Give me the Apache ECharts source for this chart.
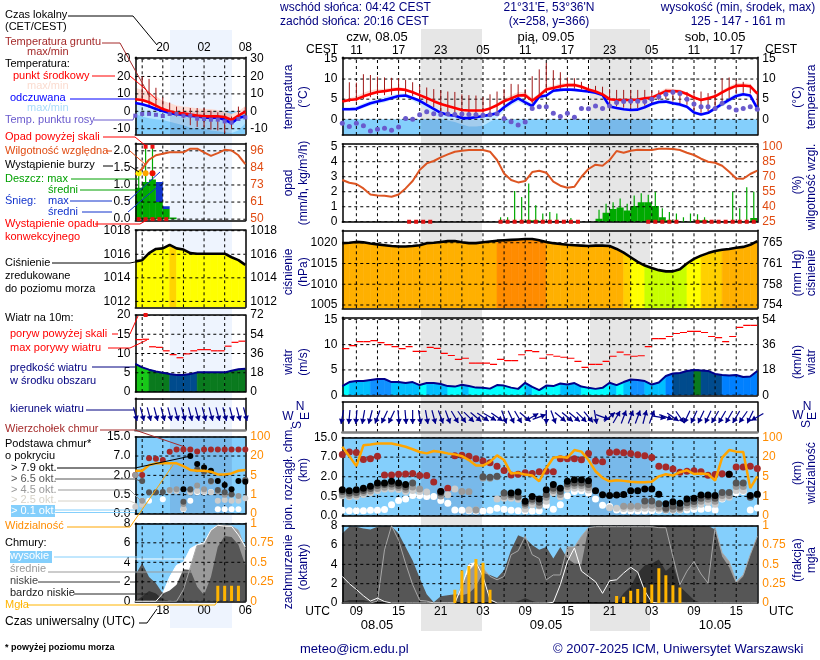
<!DOCTYPE html>
<html>
<head>
<meta charset="utf-8">
<title>meteogram</title>
<style>html,body{margin:0;padding:0;background:#fff}#chart{width:820px;height:660px}</style>
<script src="https://cdn.jsdelivr.net/npm/echarts@6/dist/echarts.min.js"></script>
</head>
<body>
<div id="chart"></div>
<script>
//hours counted from 08.05 00 UTC
var rHours=[7,8,9,10,11,12,13,14,15,16,17,18,19,20,21,22,23,24,25,26,27,28,29,30,31,32,33,34,35,36,37,38,39,40,41,42,43,44,45,46,47,48,49,50,51,52,53,54,55,56,57,58,59,60,61,62,63,64,65,66];
var lHours=[14,15,16,17,18,19,20,21,22,23,24,25,26,27,28,29,30];
var rNight=[[18.2,26.9],[42.2,50.8]];
var lNight=[[19.05,28.05]];

//temperature, main panel
var rTempMid=[4.4,4.8,5.0,5.7,6.3,6.8,7.0,7.3,7.5,7.3,6.7,6.0,5.3,4.5,3.8,3.3,2.8,2.3,2.2,2.2,2.2,2.7,3.5,4.5,5.2,5.9,6.0,4.6,5.9,7.4,7.8,8.2,8.5,8.5,8.1,7.4,6.9,6.2,5.0,4.8,4.8,4.8,4.9,5.2,5.4,6.2,7.0,7.0,6.9,6.3,5.4,4.8,5.2,5.7,6.7,7.6,8.3,8.4,8.2,6.4];
var rTempMidHi=[4.9,5.3,5.7,6.6,7.2,7.5,7.6,7.9,8.0,7.7,7.1,6.3,5.6,4.8,4.1,3.5,3.0,2.5,2.4,2.4,2.4,3.0,4.0,5.2,6.0,6.8,6.8,5.2,6.5,8.0,8.4,8.9,9.1,9.0,8.5,7.7,7.1,6.4,5.2,5.0,5.0,5.0,5.1,5.4,5.7,6.8,7.7,7.6,7.4,6.7,5.6,5.0,5.4,6.0,7.2,8.2,9.0,9.0,8.8,6.8];
var rTempMidLo=[4.1,4.5,4.7,5.3,5.9,6.4,6.7,7.0,7.2,7.0,6.4,5.7,5.0,4.2,3.5,3.0,2.5,2.0,1.9,1.9,1.9,2.4,3.2,4.1,4.8,5.5,5.6,4.2,5.5,7.0,7.4,7.8,8.1,8.1,7.8,7.1,6.6,5.9,4.7,4.5,4.5,4.5,4.6,4.9,5.1,5.8,6.6,6.6,6.5,6.0,5.1,4.5,4.9,5.4,6.3,7.2,7.9,8.0,7.8,6.0];
var rTempFeel=[2.5,2.5,2.6,3.3,4.0,4.4,4.8,5.3,5.8,5.9,5.3,4.6,3.6,2.6,1.6,1.1,0.9,0.3,0.3,0.5,0.8,1.1,1.5,3.0,4.2,5.2,4.2,3.3,5.6,5.9,7.1,7.3,7.4,7.3,7.1,6.9,6.6,6.0,3.2,2.8,2.5,2.3,2.4,3.0,3.8,4.3,4.4,4.0,3.7,3.1,1.7,1.2,1.6,2.7,3.8,4.8,5.8,6.2,5.9,2.7];
var rTempFeelHi=[3.0,3.0,3.2,4.0,4.6,5.0,5.6,6.0,6.4,6.4,5.8,5.0,4.0,2.9,1.9,1.4,1.2,0.6,0.6,0.8,1.1,1.5,2.0,3.6,4.9,5.9,4.9,3.9,6.2,6.4,7.5,7.7,7.8,7.6,7.3,7.1,6.8,6.2,3.6,3.2,2.8,2.6,2.8,3.4,4.2,4.8,4.9,4.5,4.1,3.4,2.0,1.5,2.0,3.2,4.5,5.5,6.5,6.7,6.2,3.1];
var rTempFeelLo=[2.2,2.2,2.2,2.8,3.4,3.8,4.2,4.8,5.3,5.4,4.6,3.6,2.4,1.2,0.2,-0.3,-0.7,-1.3,-1.8,-1.8,-1.6,-0.6,0.3,2.0,3.4,4.4,3.4,2.6,5.0,5.4,6.6,6.9,7.0,6.9,6.7,6.5,6.2,5.4,2.8,2.4,2.1,2.0,2.1,2.6,3.3,3.8,3.9,3.5,3.2,2.7,1.3,0.8,1.2,2.2,3.2,4.2,5.2,5.7,5.3,2.3];
var rDew=[-1,-1.8,-1,-1.6,-2.9,-2.5,-2.2,-2.7,-1.9,0.2,0,1.1,1.9,1.4,1.2,1.3,1.2,1.3,1.2,1.1,1,1.1,1.4,0.2,-0.6,-1.4,-0.7,2.7,3.1,3.1,1.5,0.7,1.5,0.5,2.7,2.6,3.3,2.7,3.3,4.2,4.4,4.5,4.5,4.4,5,5.6,6.2,6.7,6.4,5,3.8,3.1,3.1,2.7,4,3,2.3,2.7,3.1,2.5];
var rGroundHi=[null,9.2,9.1,11.2,11,10.6,10.4,10.3,10.2,9.8,9.2,8.4,7.9,7.5,7.2,6.9,6.8,6.2,6,5.9,5.5,6.2,6.9,7.5,8.8,8.7,7.5,10.7,12.4,14,12.2,11.7,10.4,10.2,9.3,8.5,8.3,8.1,7.5,7.3,7.3,7.3,7.3,7.3,7.1,7.2,7.4,7.3,7,6.8,6.9,6.9,6.5,7.3,10.2,10.4,9.9,9.3,8.6,7];
var rGroundLo=[null,4.3,4.4,5.0,5.5,6,6,6,6,6,5.8,4.9,4,3,2,1.4,1.1,0.6,0.6,0.8,1,1.4,2,3.3,4.6,5.4,5,3.9,5.8,6.6,7.2,7.6,7.7,7.6,7.4,7,6.7,6.1,3.6,3.2,2.9,2.7,2.8,3.4,4.1,4.8,5,4.4,4,3.6,2.3,1.6,2,3.1,4.3,5.3,6.3,6.6,6.4,3.5];

//precipitation and humidity, main panel
var rHumidity=[66.7,64,62.7,58.3,52.3,51.3,51,50,52.3,58.3,65.7,76.7,83.3,85.7,89.3,92.3,95,96,96.7,96.7,96.7,95,86.7,73.3,66.7,64.3,65.7,74.7,76,74,65,61,59,60,70,77.7,82,81,86.7,95.7,94,96,97,96.7,96.7,98,98,97.7,96.7,94,91.7,88,85,84,81,75,68.3,68,72.7,76];
var rRainMean=[0,0,0,0,0,0,0,0,0,0,0,0,0,0,0,0,0,0,0,0,0,0,0,0,0,0.05,0.1,0.1,0.05,0,0,0,0,0,0,0,0.2,0.6,0.85,0.95,0.75,1.05,1.3,1.3,1.05,0.3,0.1,0,0,0,0.1,0.1,0,0,0,0.05,0.05,0,0.25,0.25];
var rRainMax=[0,0,0,0,0,0,0,0,0,0,0,0,0,0,0,0,0,0,0,0,0,0,0.3,0.3,2.05,1.65,2.55,1.1,0.55,0.65,0.55,0,0.25,0,0,0,0.8,1.2,1.3,1.55,1.2,1.75,1.9,1.8,2.0,0.9,0.65,0.55,0.3,0.55,0.5,0.3,0,0,0,2,0.9,2.3,2,0];
var rConvective=[16.5,17.5,18.5,19.5,29.5,30.5,31.5,32.5,33.5,34.5,35.5,36.5,37.5,38.5,39.5,40.5,50.5,51.5,52.5,53.5,54.5,57.5,58.5,59.5,60.5,61.5,62.5,63.5,64.5,65.5];

//pressure
var rPressure=[1019.9,1020.0,1020.2,1020.1,1019.8,1019.6,1019.4,1019.2,1019.1,1019.1,1019.2,1019.4,1019.9,1020.0,1020.2,1020.4,1020.4,1020.1,1019.9,1019.9,1020.1,1020.3,1020.5,1020.6,1020.7,1020.8,1020.9,1020.9,1020.6,1020.2,1019.9,1019.7,1019.5,1019.4,1019.3,1019.2,1019.3,1019.3,1019.2,1018.5,1017.6,1016.5,1015.4,1014.5,1013.9,1013.4,1013.1,1013.1,1013.6,1015.0,1016.1,1016.9,1017.5,1018.0,1018.3,1018.5,1018.8,1019.0,1019.5,1020.4];

//wind
var rWind=[1.8,2.6,2.8,2.8,3,3.2,3.2,2.6,2.6,2.4,2.6,2,2.4,2.4,2.2,1.8,1.7,2.05,1.8,1.5,1.45,1.3,2,1.9,1.5,1.25,2.45,1.65,1,1.9,1.8,2.3,2.1,2.4,1.7,1.45,1.25,1.45,2.45,2,2.6,3.1,3,2.8,2.1,2.5,3.8,4.3,4.4,4.8,5,4.9,4.8,4.2,4,3.9,4,3.6,3.7,4.8];
var rGust=[9.2,9.8,10.6,10.6,10.8,10.4,10,9.6,9.2,9.6,8.65,8.65,9.45,9.25,8.25,7.85,7.1,7.3,6.35,6.35,6.35,6.1,7.1,6.85,6.85,8,8.8,8.6,7.3,8,7.7,7.5,7.3,6.7,5.5,6.1,6.1,6.7,7.7,8.5,8,7.7,7.8,9.6,11.2,11.2,11.6,12.2,12.4,12.6,12.6,12.4,11.6,11.4,10.6,11.6,13.4,13.8,13.8];
var rWindTo=[190,185,185,190,195,200,205,205,175,175,180,170,170,165,160,160,150,145,135,130,125,120,125,160,155,150,130,60,70,180,160,130,130,130,135,140,170,110,50,30,20,20,20,15,20,100,110,125,145,205,205,205,205,210,210,210,210,215,205,240];

//cloud base, on the stretched axis 0=0 1=0.5 2=2 3=7 4=15 km
var rCloudTop=[3.14,3.26,3.24,2.88,2.92,3.05,2.09,2.09,2.13,2.14,2.16,2.06,2.06,1.73,1.25,1.41,3.07,3.09,3.05,2.92,2.8,2.71,2.54,2.32,2.09,2.13,2.2,2.16,2.25,2.28,2.25,2.92,2.92,2.92,2.86,3.19,2.8,2.76,3.24,3.26,3.22,3.19,3.12,3.07,2.98,2.54,2.5,2.4,2.23,2.28,2.3,2.26,2.08,2.11,2.15,2.13,2.5,2.5,2.54,2.42];
var rCloud79=[1.34,1.29,1.34,1.42,1.51,1.68,1.68,1.77,1.68,1.6,null,null,null,null,1.25,null,null,null,null,null,null,null,null,null,1.17,1.22,0.75,1,0.87,1.34,1.6,1.42,1.77,1.85,1.85,1.8,1.29,1.08,1.05,1.07,1.1,1.29,1.29,1.37,1.37,1.11,0.63,0.72,0.65,0.86,0.9,1.07,1.07,1.05,null,2.13,null,null,1.05,1.11];
var rCloud65=[1.25,1.16,1.2,1.3,1.4,1.55,1.6,1.63,1.56,1.48,1.68,null,null,null,1.17,null,null,null,null,null,2,1.98,2.02,1.17,1.08,1,0.65,0.85,0.7,1.1,1.42,1.25,1.63,1.68,1.68,1.6,null,null,null,null,null,null,null,0.77,0.77,0.62,0.4,0.5,0.45,0.68,0.74,0.9,1,0.9,1.2,1.2,1.68,1.68,0.95,1.08];
var rCloud45=[1.1,1.05,1.08,1.2,1.28,1.4,1.47,1.5,1.45,1.35,1.48,1.37,null,null,1.02,null,null,1.25,1.23,0.31,1.94,1.92,2,1,1,0.95,0.55,0.75,0.55,0.95,1.3,1.1,1.5,1.55,1.55,1.45,null,null,null,null,0.5,0.5,0.5,0.55,0.55,0.45,0.32,0.35,0.36,0.55,0.6,0.75,0.85,0.75,1.05,1.05,1.5,1.5,null,null];
var rCloud25=[1.03,0.98,1,1.1,1.18,1.3,1.37,1.38,1.35,1.25,1.3,1.25,1.22,null,null,1.08,1.37,null,0.31,0.31,null,null,0.87,0.9,0.9,0.85,0.34,0.57,0.51,0.75,1.18,0.98,1.38,1.42,1.42,1.32,null,null,0.42,0.4,0.38,0.38,0.38,0.4,0.4,0.36,0.3,0.3,0.3,0.42,0.48,0.6,0.7,0.6,0.9,0.95,1.3,1.3,null,null];
var rCloud01=[0.29,0.27,0.27,0.27,0.29,0.29,0.33,0.57,0.79,0.86,1.05,1.05,1,1,0.79,0.65,0.31,0.29,0.27,0.26,0.26,0.29,0.39,0.34,0.29,0.27,0.26,0.26,0.27,0.55,0.34,0.57,1.03,1.25,1.29,1.17,0.87,0.55,0.48,0.31,0.27,0.26,0.26,0.26,0.27,0.29,0.29,0.29,0.31,0.31,0.34,0.34,0.38,0.31,0.87,null,1.19,1.25,0.31,0.41];
var rVisibility=[3.53,3.05,2.54,3.6,3.64,3.69,3.69,3.69,3.62,3.53,3.4,3.26,3.19,3.31,3.26,3.19,3.14,3.05,2.85,2.57,2.57,2.76,3.09,2.85,2.16,2.2,2.11,2.06,1.77,2.45,2.97,3.02,2.97,3.36,3.28,2.85,2.28,1.94,1.77,1.82,1.79,1.75,1.72,1.72,1.75,2.02,2.13,2.06,2.23,2.33,2.14,2.16,2.13,1.8,2.97,3.36,3.28,3.26,1.42,2.02];

//cloud cover in oktas
var rCloudHigh=[2.75,2,1.4,0.75,0.2,0.5,0.15,0,0,0,0,0,0,0,0,0,0,1.7,4,4.2,2.75,0.35,0,0,0,0,0,0,0,0,0.07,1.9,4.3,5.7,3.3,2.75,2.2,1,2.3,2.4,3.1,3.7,3.2,1.25,0.07,0,0,0,0,0,0,0,0,0,0,0,0,0,0,0];
var rCloudMid=[0,0,0,0,0,0.2,5.5,8,6.5,4.1,1.9,0.27,0.2,0,0,0,0,1.9,3.3,4.1,3.6,2.75,2.4,2.75,5,5.4,6.9,5,4.6,2.4,2.9,2.9,5.8,5.8,6.9,7.8,7.9,7.9,7.9,7.9,7.9,7.9,7.9,7.9,7.9,7.8,7.8,4.8,1.9,3.3,4.3,3,2.05,7.8,5.2,4.3,2.2,2.9,5,6.9];
var rCloudLow=[7.2,7.9,7.9,7.7,7.6,7.9,7.95,7.95,7.2,5.8,4.4,2.6,0.9,0.07,0.7,0.8,0.9,0.8,1,1.7,3.1,2.9,2.6,3.4,5.5,7,6.7,6,5.5,5.8,4.6,5.8,4.6,4.1,4,7.8,7.95,8,8,8,8,8,8,8,8,8,8,8,8,8,8,8,8,7.6,4.8,3.7,2,2.75,5,6.9];
var rCloudVeryLow=[0.1,0.3,0.3,0.3,0.1,0,0,0,0,0,0,0,0,0,0,0,0,0,0,0,0,0,0,0,0,0.2,0.5,0.2,0,0,0,0,0,0,0,0,0,0,0,0,1,1.7,3.1,3.9,4.1,4.5,3.3,3.9,1.7,1,0.3,0,0,0,0,0,0,0,0,0];
var rFog=[0,0,0,0,0,0,0,0,0,0,0,0,0,0,0,0,0.17,0.42,0.48,0.57,0.52,0.17,0,0,0,0,0,0,0,0,0,0,0,0,0,0,0,0,0,0.09,0.08,0.16,0.18,0.2,0.24,0.45,0.36,0.23,0.2,0,0,0,0,0,0,0,0,0,0,0];

//left column, short range panels
var lTempMid=[6.9,6.5,5.2,3.3,1.3,0,-1,-1.2,-1.9,-2.5,-2.9,-2.9,-2.9,-3.3,-5,-2.5,-0.2];
var lTempMidHi=[13.5,12.2,11,8.6,6,4.8,3.3,2.8,2.3,1.8,1.3,1.3,0.8,-0.2,-1.5,0,3];
var lTempMidLo=[6.6,6.2,4.9,3,1,-0.3,-1.3,-1.5,-2.2,-2.8,-3.2,-3.2,-3.2,-3.6,-5.3,-2.8,-0.5];
var lTempFeel=[4.8,4,2.9,1.3,0.2,-1,-1.7,-1.9,-2.5,-3,-3.6,-3.8,-3.5,-4.8,-6.9,-3.8,-2.9];
var lTempFeelHi=[5.2,4.4,3.3,1.7,0.6,-0.6,-1.3,-1.5,-2.1,-2.6,-3.2,-3.4,-3.1,-4.4,-6.5,-3.4,-2.5];
var lTempFeelLo=[-1.5,-3,-4,-4.5,-5,-6,-7,-8,-9.5,-10,-10,-11,-11.5,-12,-12.5,-11,-7];
var lDew=[-2.5,-1.5,-1.5,-2,-2.7,-1.5,-1.5,-2.5,-2.5,-4.2,-4.4,-4.8,-4.8,-5.8,-6.4,-4.4,-3.5];
var lGroundHi=[null,20,18.6,13.5,8,5,2.7,1.3,1.9,1.9,1.9,0.4,-0.6,-2.5,-3,2.7,2.3];
var lGroundLo=[null,3.3,2,1,-0.5,-2,-3,-4,-8,-9,-9,-10.5,-11,-12.5,-10,-5,-3];
var lHumidity=[80,84,90,93,94,95,95,95,97.4,97.4,95,92.6,94.4,96.7,96.2,93,87];
var lRainMean=[0.92,1.09,1.16,0.5,0.3,0.05,0,0,0,0,0,0,0,0,0,0];
var lSnowMean=[0,0,0,1.09,0.38,0,0,0,0,0,0,0,0,0,0,0];
var lRainMax=[1.34,2.08,2.08,0,0,0,0,0,0,0,0,0,0,0,0,0];
var lOverRain=[15.5,16.5];
var lStormHours=[14.5,15.5,16.5];
var lStormColors=['#ffee00','#ffa500','#ee1100'];
var lConvective=[14.5,15.5,16.5,17.5,18.5];
var lPressure=[1015.4,1015.5,1016.1,1016.45,1016.5,1016.8,1016.5,1016.4,1016.1,1016.05,1016.05,1016.05,1016.05,1016.05,1015.75,1015.5,1015.1];
var lWind=[7.3,6.4,5.8,5.35,5,4.65,4.4,4.4,4.65,5.1,5.1,5.1,5.1,5.1,5.5,5.9,6.05];
var lGust=[13.6,13.7,11.75,11.6,10.7,9.7,8.9,9.9,10.7,11,11,10.7,10.7,11.9,12.9,13.2];
var lOverGust=[[15.5,20]];
var lWindTo=[165,165,165,165,165,165,165,165,165,165,165,165,165,165,165,165,165];
var lCloudTop=[2.02,2.02,2.88,2.86,2.79,3.22,3.34,3.34,3.34,3.24,3.34,3.34,3.34,3.34,3.34,3.34,3.34];
var lCloud79=[null,null,null,null,null,null,null,1.28,3,2.59,2.4,2.24,1.71,1.5,1.28,1.71,1.67];
var lCloud65=[null,1.71,1.12,1.12,1.14,null,null,0.64,1.28,2.31,2.19,1.71,1.24,1.12,1.02,null,1.76];
var lCloud45=[2.02,0.69,null,null,null,1.24,1.28,0.52,1.24,1.47,1.28,1.67,1.16,1,1,0.93,1.76];
var lCloud25=[0.38,0.47,null,null,null,1.19,1.19,0.29,1.12,1.19,1.16,1.12,0.69,0.72,0.69,0.69,0.81];
var lCloud01=[null,0.69,0.69,null,0.76,null,null,0.24,0.69,1.12,1.14,1.14,0.24,0.24,0.24,0.24,null];
var lVisibility=[2.24,2.24,2.53,2.62,2.62,2.62,2.62,2.48,2.28,2.24,2.24,2.19,2.05,2.05,2.1,2.24,2.28];
var lCloudHigh=[0,0,0,0,0.8,2.5,3.7,4,5.4,5.8,6,7.3,7.8,7.7,7.7,6.8,5.6];
var lCloudMid=[0,0,0,0,0,0,0,1.2,3.5,5.8,5.8,7.3,7.8,7.8,7.7,7.3,5.3];
var lCloudLow=[2.7,3.9,2.5,1.85,0.8,1.1,1.7,3.3,3.2,1.5,0.65,2.5,5.6,6.7,6.6,5.8,3.7];
var lCloudVeryLow=[0,0.5,1.05,0.8,0.2,0,0,0,0,0,0,0,0,0,0,0,0];
var lFog=[0,0,0,0,0,0,0,0,0,0,0,0,0.2,0.2,0.2,0.2,0];

//axis ticks and tick labels
var rGridHours=[9,12,15,18,21,24,27,30,33,36,39,42,45,48,51,54,57,60,63];
var lGridHours=[15,18,21,24,27];
var rLabelHours=[9,15,21,27,33,39,45,51,57,63];
var lLabelHours=[18,24,30];
var tempTicks=[15,10,5,0];
var lTempTicks=[30,20,10,0,-10];
var rainTicks=[5,4,3,2,1,0];
var humTicks=[100,85,70,55,40,25];
var lRainTicks=[2,1.5,1,0.5,0];
var lRainLabels=['2.0','1.5','1.0','0.5','0.0'];
var lHumLabels=[96,84,73,61,50];
var pressTicks=[1020,1015,1010,1005];
var pressMm=[765,761,758,754];
var lPressTicks=[1018,1016,1014,1012];
var windTicks=[15,10,5,0];
var windKmh=[54,36,18,0];
var lWindTicks=[20,15,10,5,0];
var lWindKmh=[72,54,36,18,0];
var baseTicks=[4,3,2,1,0];
var baseKm=['15.0','7.0','2.0','0.5','0.0'];
var baseVis=[100,20,5,1,0];
var coverTicks=[8,6,4,2,0];
var coverFrac=[1,0.75,0.5,0.25,0];

var font='"Liberation Sans",Arial,sans-serif';
var navy='#000080';
var sky='#84cffc';
var grids=[],xAxes=[],yAxes=[],series=[],graphics=[];

function labelAt(ticks,labels){
    return function(v){
        var i=ticks.indexOf(v);
        return i<0?'':String(labels[i]);
    };
}
function hourLabel(shift){
    return function(h){
        var v=(h+shift)%24;
        return (v<10?'0':'')+v;
    };
}
//one panel: grid with x axes at bottom and top, y axes left and right
function panel(o){
    var g=grids.length;
    grids.push({left:o.x,top:o.y,width:o.w,height:o.h,show:true,backgroundColor:o.bg||'transparent',borderWidth:0});
    var line={show:true,onZero:false,lineStyle:{color:'#000',width:1.5}};
    var bottomLine=o.bottomLine||line;
    function xLabel(fmt){
        return fmt?{show:true,customValues:o.xLabels,formatter:fmt,color:'#000',fontFamily:font,fontSize:12,margin:o.xMargin||3}:{show:false};
    }
    xAxes.push({gridIndex:g,type:'value',position:'bottom',min:o.xMin,max:o.xMax,z:12,axisLine:bottomLine,axisTick:{show:false},splitLine:{show:false},axisLabel:xLabel(o.bottom)});
    xAxes.push({gridIndex:g,type:'value',position:'top',min:o.xMin,max:o.xMax,z:12,axisLine:line,axisTick:{show:false},splitLine:{show:false},axisLabel:xLabel(o.top)});
    function yLabel(fmt,color){
        return fmt?{show:true,customValues:o.ticks,formatter:fmt,color:color||'#000',fontFamily:font,fontSize:12,margin:5}:{show:false};
    }
    yAxes.push({gridIndex:g,type:'value',position:'left',min:o.yMin,max:o.yMax,z:12,axisLine:line,axisTick:{show:false},splitLine:{show:false},axisLabel:yLabel(o.left)});
    yAxes.push({gridIndex:g,type:'value',position:'right',min:o.yMin,max:o.yMax,z:12,axisLine:line,axisTick:{show:false},splitLine:{show:false},axisLabel:yLabel(o.right,o.rightColor)});
    dashes(g,o.xMin,o.xMax,o.yMin,o.yMax,o.xGrid,o.ticks);
    return g;
}
function base(g){
    return {coordinateSystem:'cartesian2d',xAxisIndex:2*g,yAxisIndex:2*g,silent:true,animation:false};
}
//dashed grid, drawn above the fills and below the curves
function dashes(g,x0,x1,y0,y1,xs,ys){
    series.push(Object.assign(base(g),{type:'custom',clip:true,z:10,data:[[x0,y0]],renderItem:function(p,api){
        var kids=[];
        function seg(a,b){
            kids.push({type:'line',shape:{x1:a[0],y1:a[1],x2:b[0],y2:b[1]},style:{stroke:'#000',lineWidth:1,lineDash:[3,3]}});
        }
        xs.forEach(function(x){seg(api.coord([x,y0]),api.coord([x,y1]));});
        ys.forEach(function(y){seg(api.coord([x0,y]),api.coord([x1,y]));});
        return {type:'group',children:kids};
    }}));
}
function zip(xs,ys){
    return xs.map(function(x,i){return [x,ys[i]];});
}
function lineOf(g,xs,ys,color,width,z){
    series.push(Object.assign(base(g),{type:'line',data:zip(xs,ys),showSymbol:false,connectNulls:false,z:z||20,lineStyle:{color:color,width:width}}));
}
function areaOf(g,xs,ys,color){
    series.push(Object.assign(base(g),{type:'line',data:zip(xs,ys),showSymbol:false,z:3,lineStyle:{width:0},areaStyle:{color:color,opacity:1}}));
}
function dots(g,xs,ys,color,size,shape){
    var d=zip(xs,ys).filter(function(p){return p[1]!==null;});
    series.push(Object.assign(base(g),{type:'scatter',data:d,symbol:shape||'circle',symbolSize:size,z:20,itemStyle:{color:color,opacity:1}}));
}
//filled shape between two curves
function band(g,xs,lo,hi,color,z){
    series.push(Object.assign(base(g),{type:'custom',clip:true,z:z||3,data:[[xs[0],lo[0]]],renderItem:function(p,api){
        var pts=[];
        xs.forEach(function(x,i){pts.push(api.coord([x,hi[i]]));});
        for(var i=xs.length-1;i>=0;i--) pts.push(api.coord([xs[i],lo[i]]));
        return {type:'polygon',shape:{points:pts},style:{fill:color}};
    }}));
}
//night tint on the coloured background
function tint(g,night,yLo,yHi){
    night.forEach(function(n){
        band(g,n,[yLo,yLo],[yHi,yHi],'rgba(30,30,110,0.12)',4);
    });
}
//columns under a curve, colour taken from the value
function strips(g,xs,ys,yLo,colorOf){
    var d=xs.slice(0,-1).map(function(x,i){return [x,i];});
    series.push(Object.assign(base(g),{type:'custom',clip:true,z:3,data:d,renderItem:function(p,api){
        var i=api.value(1);
        var c=colorOf(ys[i]);
        return {type:'polygon',shape:{points:[api.coord([xs[i],yLo]),api.coord([xs[i],ys[i]]),api.coord([xs[i+1],ys[i+1]]),api.coord([xs[i+1],yLo])]},style:{fill:c,stroke:c,lineWidth:0.6}};
    }}));
}
//vertical thin bars
function stems(g,xs,lo,hi,color,width,z){
    var d=[];
    xs.forEach(function(x,i){
        if(hi[i]!==null && hi[i]!=lo[i]) d.push([x,lo[i],hi[i]]);
    });
    series.push(Object.assign(base(g),{type:'custom',clip:true,z:z||15,data:d,renderItem:function(p,api){
        var a=api.coord([api.value(0),api.value(1)]),b=api.coord([api.value(0),api.value(2)]);
        return {type:'line',shape:{x1:a[0],y1:a[1],x2:b[0],y2:b[1]},style:{stroke:color,lineWidth:width}};
    }}));
}
//horizontal pieces, one for each hour step
function steps(g,xs,ys,color,width){
    var d=[];
    ys.forEach(function(v,i){d.push([xs[i],xs[i+1],v]);});
    series.push(Object.assign(base(g),{type:'custom',clip:true,z:15,data:d,renderItem:function(p,api){
        var a=api.coord([api.value(0),api.value(2)]),b=api.coord([api.value(1),api.value(2)]);
        return {type:'line',shape:{x1:a[0],y1:a[1],x2:b[0],y2:b[1]},style:{stroke:color,lineWidth:width}};
    }}));
}
//filled steps from 0
function blocks(g,xs,lo,hi,color){
    var d=[];
    hi.forEach(function(v,i){if(v>0)d.push([xs[i],xs[i+1],lo?lo[i]:0,v]);});
    series.push(Object.assign(base(g),{type:'custom',clip:true,z:5,data:d,renderItem:function(p,api){
        var a=api.coord([api.value(0),api.value(2)]),b=api.coord([api.value(1),api.value(3)]);
        return {type:'rect',shape:{x:a[0],y:b[1],width:b[0]-a[0],height:a[1]-b[1]},style:{fill:color}};
    }}));
}
//wind arrows, fixed length, pointing to the given bearing
function arrows(g,xs,toward){
    series.push(Object.assign(base(g),{type:'custom',clip:false,z:20,data:zip(xs,toward),renderItem:function(p,api){
        var c=api.coord([api.value(0),0.5]);
        var a=api.value(1)*Math.PI/180;
        var dx=Math.sin(a),dy=-Math.cos(a);
        var tip=[c[0]+dx*7,c[1]+dy*7],tail=[c[0]-dx*7,c[1]-dy*7];
        var back=[tip[0]-dx*5,tip[1]-dy*5];
        return {type:'group',children:[
            {type:'line',shape:{x1:tail[0],y1:tail[1],x2:tip[0],y2:tip[1]},style:{stroke:'#00008b',lineWidth:1.2}},
            {type:'polygon',shape:{points:[tip,[back[0]-dy*3,back[1]+dx*3],[back[0]+dy*3,back[1]-dx*3]]},style:{fill:'#00008b'}}
        ]};
    }}));
}
function shift(xs,d){
    return xs.map(function(x){return x+d;});
}
function zeros(a){
    return a.map(function(){return 0;});
}
function pressColor(p){
    if(p<1014.7) return '#c8ff00';
    if(p<1016.6) return '#ffff00';
    if(p<1018.2) return '#ffd000';
    if(p<1020.5) return '#ffb000';
    return '#ff8c00';
}
function pressColorLeft(p){
    return p<1016.7?'#ffff00':'#ffd400';
}
function windColor(v){
    if(v<2.05) return '#00ffff';
    if(v<2.9) return '#00bfff';
    if(v<3.3) return '#1090ff';
    if(v<4.2) return '#0080ff';
    if(v<5) return '#004b8d';
    if(v<6) return '#0a7a1e';
    return '#18c818';
}

function temperature(g,xs,night,yLo,mid,midHi,midLo,feel,feelHi,feelLo,dew,gHi,gLo,dewShape,dewSize){
    band(g,[xs[0],xs[xs.length-1]],[yLo,yLo],[0,0],sky,2);
    tint(g,night,yLo,0);
    band(g,xs,midLo,midHi,'#fcdcd4');
    band(g,xs,feelLo,feelHi,'rgba(195,232,255,0.8)');
    dots(g,xs,dew,'#6a5acd',dewSize,dewShape);
    stems(g,xs,gLo,gHi,'#a01818',1,16);
    lineOf(g,xs,feel,'#0000ff',2.6);
    lineOf(g,xs,mid,'#ff0000',2.6);
}
function cloudBase(g,xs,night,top,c79,c65,c45,c25,c01,vis,size){
    tint(g,night,0,4);
    dots(g,xs,top,'#a52a2a',size);
    dots(g,xs,c01,'#ffffff',size);
    dots(g,xs,c25,'#cccccc',size);
    dots(g,xs,c45,'#999999',size);
    dots(g,xs,c65,'#555555',size);
    dots(g,xs,c79,'#000000',size);
    lineOf(g,xs,vis,'#ffa500',2.5,22);
}
function cover(g,xs,high,mid,low,vlow,fog){
    areaOf(g,xs,high,'#ffffff');
    areaOf(g,xs,mid,'#9a9a9a');
    areaOf(g,xs,low,'#565656');
    areaOf(g,xs,vlow,'#303030');
    lineOf(g,xs,mid,'#a8a8a8',1,14);
    lineOf(g,xs,high,'#ffffff',1,14);
    stems(g,xs,zeros(fog),fog.map(function(v){return v*8;}),'#ffb400',3,18);
}

// ---- main panels ----
var RX=342.3,RW=415,LX=135.3,LW=110;
var greyEdge={show:true,onZero:false,lineStyle:{color:'#808080',width:2.5}};
function rPanel(o){
    o.x=RX;o.w=RW;o.xMin=7;o.xMax=66;o.xGrid=rGridHours;o.xLabels=rLabelHours;
    return panel(o);
}
function lPanel(o){
    o.x=LX;o.w=LW;o.xMin=14;o.xMax=30;o.xGrid=lGridHours;o.xLabels=lLabelHours;
    return panel(o);
}
var gRT=rPanel({y:57.3,h:77.7,yMin:-3.9,yMax:15.4,ticks:tempTicks,top:hourLabel(2),xMargin:1,left:labelAt(tempTicks,tempTicks),right:labelAt(tempTicks,tempTicks)});
temperature(gRT,rHours,rNight,-3.9,rTempMid,rTempMidHi,rTempMidLo,rTempFeel,rTempFeelHi,rTempFeelLo,rDew,rGroundHi,rGroundLo,'circle',5);

var gRR=rPanel({y:144,h:78.2,yMin:-0.03,yMax:5.18,ticks:rainTicks,left:labelAt(rainTicks,rainTicks),right:labelAt(rainTicks,humTicks),rightColor:'#e04a10'});
blocks(gRR,rHours,null,rRainMean,'#00aa00');
stems(gRR,shift(rHours,0.5),zeros(rRainMax),rRainMax,'#00aa00',1.2);
dots(gRR,rConvective,zeros(rConvective),'#dd1111',4,'rect');
lineOf(gRR,rHours,rHumidity.map(function(v){return (v-25)/15;}),'#dd5522',2);

var gRP=rPanel({y:230.3,h:78,yMin:1004.2,yMax:1023,ticks:pressTicks,left:labelAt(pressTicks,pressTicks),right:labelAt(pressTicks,pressMm)});
strips(gRP,rHours,rPressure,1004.2,pressColor);
lineOf(gRP,rHours,rPressure,'#000',2.6);

var gRW=rPanel({y:317.3,h:78,yMin:-0.02,yMax:15.4,ticks:windTicks,left:labelAt(windTicks,windTicks),right:labelAt(windTicks,windKmh)});
strips(gRW,rHours,rWind,0,windColor);
lineOf(gRW,rHours,rWind,'#00008b',2);
steps(gRW,rHours,rGust,'#ff0000',1.2);

var gRD=rPanel({y:402,h:30,yMin:0,yMax:1,ticks:[],bottomLine:greyEdge});
arrows(gRD,rHours,rWindTo);

var gRB=rPanel({y:437.5,h:78.5,yMin:0,yMax:4,ticks:baseTicks,bg:sky,left:labelAt(baseTicks,baseKm),right:labelAt(baseTicks,baseVis),rightColor:'#ff8c00'});
cloudBase(gRB,rHours,rNight,rCloudTop,rCloud79,rCloud65,rCloud45,rCloud25,rCloud01,rVisibility,7);

var gRC=rPanel({y:525.7,h:77.3,yMin:0,yMax:8,ticks:coverTicks,bg:sky,bottom:hourLabel(0),left:labelAt(coverTicks,coverTicks),right:labelAt(coverTicks,coverFrac),rightColor:'#ff8c00'});
cover(gRC,rHours,rCloudHigh,rCloudMid,rCloudLow,rCloudVeryLow,rFog);

// ---- left column ----
var gLT=lPanel({y:57.3,h:77,yMin:-13.2,yMax:31,ticks:lTempTicks,top:hourLabel(2),xMargin:4,left:labelAt(lTempTicks,lTempTicks),right:labelAt(lTempTicks,lTempTicks)});
temperature(gLT,lHours,lNight,-13.2,lTempMid,lTempMidHi,lTempMidLo,lTempFeel,lTempFeelHi,lTempFeelLo,lDew,lGroundHi,lGroundLo,'rect',4);

var gLR=lPanel({y:143.3,h:77.2,yMin:-0.04,yMax:2.22,ticks:lRainTicks,left:labelAt(lRainTicks,lRainLabels),right:labelAt(lRainTicks,lHumLabels),rightColor:'#e04a10'});
blocks(gLR,lHours,null,lRainMean,'#00aa00');
blocks(gLR,lHours,lRainMean,lSnowMean,'#1133cc');
stems(gLR,shift(lHours,0.5),zeros(lRainMax),lRainMax,'#00aa00',1.2);
dots(gLR,lOverRain,lOverRain.map(function(){return 2.12;}),'#ee1111',4,'rect');
lStormHours.forEach(function(h,i){
    dots(gLR,[h],[1.34],lStormColors[i],6);
});
dots(gLR,lConvective,zeros(lConvective),'#dd1111',4,'rect');
lineOf(gLR,lHours,lHumidity.map(function(v){return (v-50)/23;}),'#dd5522',2);

var gLP=lPanel({y:230,h:77.3,yMin:1011.5,yMax:1018.06,ticks:lPressTicks,left:labelAt(lPressTicks,lPressTicks),right:labelAt(lPressTicks,lPressTicks)});
strips(gLP,lHours,lPressure,1011.5,pressColorLeft);
lineOf(gLP,lHours,lPressure,'#000',2.6);

var gLW=lPanel({y:315,h:77,yMin:0,yMax:20,ticks:lWindTicks,left:labelAt(lWindTicks,lWindTicks),right:labelAt(lWindTicks,lWindKmh)});
strips(gLW,lHours,lWind,0,windColor);
lineOf(gLW,lHours,lWind,'#00008b',2);
steps(gLW,lHours,lGust,'#ff0000',1.2);
dots(gLW,[lOverGust[0][0]],[lOverGust[0][1]],'#ee1111',4,'rect');

var gLD=lPanel({y:398.3,h:31.7,yMin:0,yMax:1,ticks:[],bottomLine:greyEdge});
arrows(gLD,lHours,lWindTo);

var gLB=lPanel({y:436.7,h:77.3,yMin:0,yMax:4,ticks:baseTicks,bg:sky,left:labelAt(baseTicks,baseKm),right:labelAt(baseTicks,baseVis),rightColor:'#ff8c00'});
cloudBase(gLB,lHours,lNight,lCloudTop,lCloud79,lCloud65,lCloud45,lCloud25,lCloud01,lVisibility,6);

var gLC=lPanel({y:523.3,h:78,yMin:0,yMax:8,ticks:coverTicks,bg:sky,bottom:hourLabel(0),left:labelAt(coverTicks,coverTicks),right:labelAt(coverTicks,coverFrac),rightColor:'#ff8c00'});
cover(gLC,lHours,lCloudHigh,lCloudMid,lCloudLow,lCloudVeryLow,lFog);

// ---- texts and leader lines ----
function T(x,y,text,color,align,size,weight){
    graphics.push({type:'text',x:x,y:y,z:40,silent:true,style:{text:text,fill:color||'#000',font:(weight?weight+' ':'')+(size||12)+'px '+font,textAlign:align||'left',textVerticalAlign:'middle'}});
}
//legend text of the left column
function N(x,y,text,color){
    T(x,y,text,color,'left',11);
}
function V(x,y,text,color,size){
    graphics.push({type:'text',x:x,y:y,z:40,rotation:Math.PI/2,silent:true,style:{text:text,fill:color||navy,font:(size||12)+'px '+font,textAlign:'center',textVerticalAlign:'middle'}});
}
function L(pts,color,width){
    graphics.push({type:'polyline',z:30,silent:true,shape:{points:pts},style:{stroke:color,fill:null,lineWidth:width||1}});
}
function B(x,y,w,h,color){
    graphics.push({type:'rect',z:-10,silent:true,shape:{x:x,y:y,width:w,height:h},style:{fill:color}});
}
B(170,30,62,598,'#eef4fe');
B(421,29,61,602,'#e6e6e6');
B(590,29,60,602,'#e6e6e6');

T(280,8,'wschód słońca: 04:42 CEST',navy);
T(280,21.5,'zachód słońca: 20:16 CEST',navy);
T(549,8,"21°31'E, 53°36'N",navy,'center');
T(549,21.5,'(x=258, y=366)',navy,'center');
T(738,8,'wysokość (min, środek, max)',navy,'center');
T(738,21.5,'125 - 147 - 161 m',navy,'center');
T(377,37,'czw, 08.05','#000','center',13);
T(546,37,'pią, 09.05','#000','center',13);
T(715,37,'sob, 10.05','#000','center',13);
T(338,50,'CEST','#000','right');
T(765,50,'CEST');
T(330,612,'UTC','#000','right');
T(769,612,'UTC');
T(377,625,'08.05','#000','center',13);
T(546,625,'09.05','#000','center',13);
T(715,625,'10.05','#000','center',13);
T(300,649,'meteo@icm.edu.pl',navy,'left',13);
T(553,649,'© 2007-2025 ICM, Uniwersytet Warszawski',navy,'left',13);
T(5,648,'* powyżej poziomu morza','#000','left',9,'bold');

V(289,97,'temperatura');V(304,97,'(°C)');
V(289,183,'opad');V(304,183,'(mm/h, kg/m³/h)');
V(289,272,'ciśnienie');V(304,272,'(hPa)');
V(289,362,'wiatr');V(304,362,'(m/s)');
V(289,478,'pion. rozciągł. chm.');V(304,470,'(km)');
V(289,572,'zachmurzenie');V(304,567,'(oktanty)');
V(798,97,'(°C)');V(812,97,'temperatura');
V(798,185,'(%)');V(812,187,'wilgotność wzgl.');
V(798,273,'(mm Hg)');V(812,273,'ciśnienie');
V(798,362,'(km/h)');V(812,362,'wiatr');
V(798,473,'(km)');V(812,473,'widzialność');
V(798,560,'(frakcja)');V(812,560,'mgła');

T(288,417,'W',navy,'center');T(300,407,'N',navy,'center');V(306,416,'E',navy);V(298,425,'S',navy);
T(798,416,'W',navy,'center');T(807,407,'N',navy,'center');V(813,416,'E',navy);V(807,424,'S',navy);

N(5,15,'Czas lokalny');N(5,27,'(CET/CEST)');
N(5,42,'Temperatura gruntu','#a52a2a');N(27,52,'max/min','#a52a2a');
N(5,64,'Temperatura:');
N(13,76,'punkt środkowy','#ff0000');N(27,86,'max/min','#fbdcd0');
N(10,98,'odczuwana','#0000ff');N(27,108,'max/min','#a8dcfa');
N(5,120,'Temp. punktu rosy','#6a5acd');
N(5,137,'Opad powyżej skali','#ff0000');
N(5,151,'Wilgotność względna','#e04a10');
N(5,165,'Wystąpienie burzy');
N(5,179,'Deszcz: max','#00a000');N(48,190,'średni','#00a000');
N(5,201,'Śnieg:','#1133cc');N(48,201,'max','#1133cc');N(48,212,'średni','#1133cc');
N(5,224,'Wystąpienie opadu','#ff0000');N(5,237,'konwekcyjnego','#ff0000');
N(5,263,'Ciśnienie');N(5,276,'zredukowane');N(5,289,'do poziomu morza');
N(5,318,'Wiatr na 10m:');
N(10,334,'poryw powyżej skali','#ff0000');N(10,348,'max porywy wiatru','#ff0000');
N(10,368,'prędkość wiatru',navy);N(10,381,'w środku obszaru',navy);
N(10,409,'kierunek wiatru',navy);
N(5,429,'Wierzchołek chmur','#a52a2a');
N(5,444,'Podstawa chmur*');N(5,456,'o pokryciu');
N(11,468,'> 7.9 okt.');N(11,479,'> 6.5 okt.','#555');N(11,490,'> 4.5 okt.','#999');N(11,500,'> 2.5 okt.','#d6d2c8');
graphics.push({type:'rect',z:35,silent:true,shape:{x:11,y:505,width:44,height:12},style:{fill:sky}});
N(11,511,'> 0.1 okt.','#fff');
N(5,526,'Widzialność','#ff8c00');
N(5,543,'Chmury:');
graphics.push({type:'rect',z:35,silent:true,shape:{x:10,y:551,width:42,height:12},style:{fill:sky}});
N(10,556,'wysokie','#fff');
N(10,569,'średnie','#999');N(10,581,'niskie','#444');N(10,593,'bardzo niskie','#222');
N(5,605,'Mgła','#ffb400');
T(5,622,'Czas uniwersalny (UTC)');

L([[68,16],[133,16],[157,45]],'#000');
L([[102,43],[120,43],[150,97]],'#a52a2a');
L([[92,76],[115,76]],'#ff0000');L([[130,76],[143,87],[157,100]],'#ff0000');
L([[70,99],[135,99]],'#0000ff');
L([[94,120],[133,120],[135,115]],'#6a5acd');
L([[103,137],[135,137],[146,146]],'#ff0000');
L([[106,151],[112,151]],'#e04a10');L([[130,151],[146,165]],'#e04a10');
L([[103,166],[113,166]],'#000');L([[130,166],[139,172]],'#000');
L([[71,179],[139,179]],'#00a000');
L([[80,190],[139,190]],'#00a000');
L([[70,201],[112,201]],'#1133cc');L([[128,201],[160,172]],'#1133cc');
L([[82,212],[112,212]],'#1133cc');L([[128,212],[163,182]],'#1133cc');
L([[95,224],[140,224],[147,220]],'#ff0000');
L([[52,263],[130,263],[135,262]],'#000');
L([[112,334],[118,334]],'#ff0000');L([[130,334],[138,316]],'#ff0000');
L([[108,348],[130,348],[147,340]],'#ff0000');
L([[92,367],[135,367]],'#000080');
L([[86,410],[135,410]],'#000080');
L([[100,430],[135,430],[185,447]],'#a52a2a');
L([[57,468],[135,468],[191,456]],'#000');
L([[55,479],[135,479],[143,482]],'#555');
L([[58,490],[130,490],[143,503]],'#999');
L([[58,501],[130,501],[137,504]],'#d6d2c8');
L([[55,510],[135,510]],sky);L([[55,512.5],[135,512.5]],sky);
L([[67,527],[130,527],[173,465]],'#ffa500');
L([[54,557],[185,557]],sky);L([[54,559],[185,559]],'#fff');
L([[48,572],[192,572]],'#999');
L([[38,582],[120,582]],'#333');L([[130,582],[135,582]],'#333');
L([[74,594],[148,594]],'#222');
L([[27,605],[215,605],[218,600]],'#ffb400');
L([[139,623],[147,623],[157,609]],'#000');

var chart=echarts.init(document.getElementById('chart'),null,{renderer:'canvas'});
chart.setOption({
    animation:false,
    backgroundColor:'#fff',
    tooltip:{show:false},
    grid:grids,
    xAxis:xAxes,
    yAxis:yAxes,
    series:series,
    graphic:{elements:graphics}
});
</script>
</body>
</html>
